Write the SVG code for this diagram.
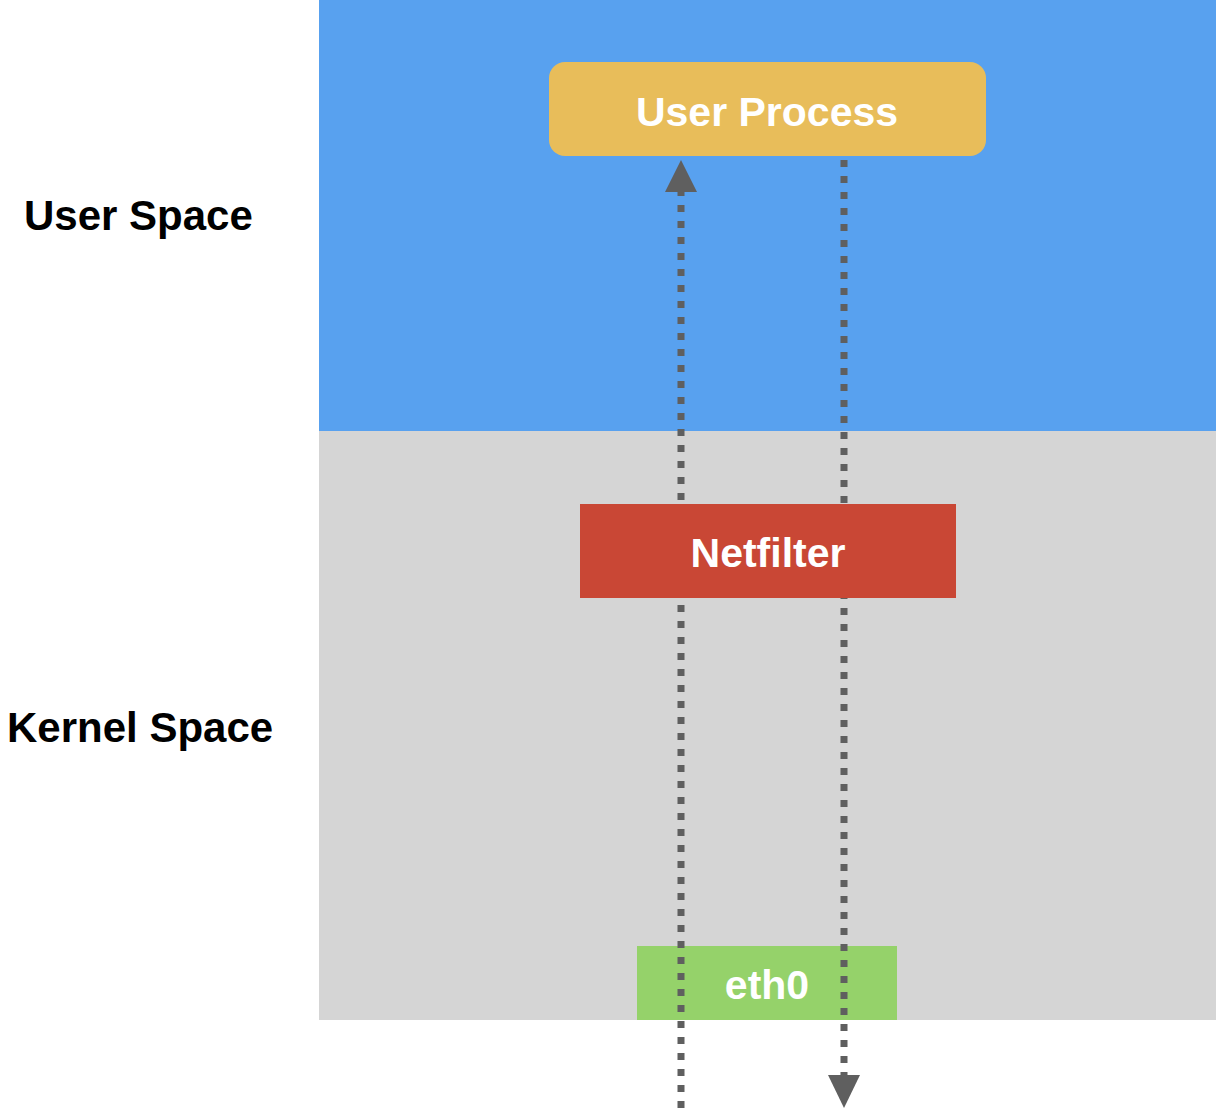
<svg xmlns="http://www.w3.org/2000/svg" width="1216" height="1110" viewBox="0 0 1216 1110">
  <defs>
    <style>
      .lbl { font-family: "Liberation Sans", Arial, sans-serif; font-weight: bold; font-size: 41px; }
      .side { font-size: 42px; }
      .white { fill: #ffffff; text-anchor: middle; }
      .dark { fill: #000000; }
      .flow { stroke: #5f5f5f; stroke-width: 7; stroke-dasharray: 7 9; fill: none; }
      .head { fill: #5f5f5f; }
    </style>
  </defs>
  <rect width="1216" height="1110" fill="#ffffff"/>
  <g id="user-space">
    <rect x="319" y="0" width="897" height="431" fill="#58A1EF"/>
    <text class="lbl side dark" x="24" y="230">User Space</text>
  </g>
  <g id="kernel-space">
    <rect x="319" y="431" width="897" height="589" fill="#D5D5D5"/>
    <text class="lbl side dark" x="7" y="742">Kernel Space</text>
  </g>
  <g id="eth0">
    <rect x="637" y="946" width="260" height="74" fill="#95D26A"/>
    <text class="lbl white" x="767" y="999">eth0</text>
  </g>
  <g id="connectors">
    <line class="flow" x1="681" y1="1108" x2="681" y2="190"/>
    <polygon class="head" points="681,160 665,192 697,192"/>
    <line class="flow" x1="844" y1="160" x2="844" y2="1078"/>
    <polygon class="head" points="844,1108 828,1075 860,1075"/>
  </g>
  <g id="user-process">
    <rect x="549" y="62" width="437" height="94" rx="16" fill="#E8BD5A"/>
    <text class="lbl white" x="767" y="126">User Process</text>
  </g>
  <g id="netfilter">
    <rect x="580" y="504" width="376" height="94" fill="#C94735"/>
    <text class="lbl white" x="768" y="567">Netfilter</text>
  </g>
</svg>
